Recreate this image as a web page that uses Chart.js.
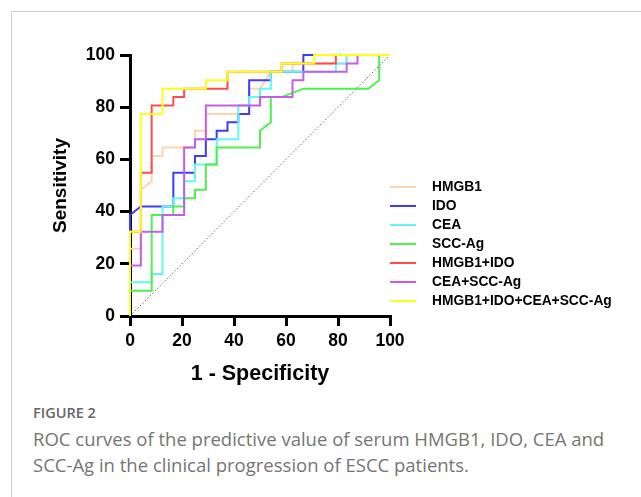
<!DOCTYPE html>
<html>
<head>
<meta charset="utf-8">
<script src="https://cdn.jsdelivr.net/npm/chart.js@4.4.1/dist/chart.umd.min.js"></script>
<style>
    body { margin: 0; background: #fff; }
    #wrap { position: relative; width: 641px; height: 497px; overflow: hidden; }
    #frame { position: absolute; left: 11px; top: 11px; right: 0; bottom: 0; border-left: 1px solid #cfcfcf; border-top: 1px solid #cfcfcf; }
    #chartBox { position: absolute; left: 0; top: 0; width: 641px; height: 390px; }
    #figLabel { position: absolute; left: 33px; top: 403px; font: 600 14.5px "Open Sans", sans-serif; color: #666; }
    #caption { position: absolute; left: 33px; top: 426px; width: 600px; font: 18.5px/26px "Open Sans", sans-serif; color: #757575; }
</style>
</head>
<body>
<div id="wrap">
    <div id="frame"></div>
    <div id="chartBox"><canvas id="rocChart"></canvas></div>
    <div id="figLabel">FIGURE 2</div>
    <div id="caption">ROC curves of the predictive value of serum HMGB1, IDO, CEA and SCC-Ag in the clinical progression of ESCC patients.</div>
</div>
<script>
// series labels and colours
const seriesNames = ['HMGB1', 'IDO', 'CEA', 'SCC-Ag', 'HMGB1+IDO', 'CEA+SCC-Ag', 'HMGB1+IDO+CEA+SCC-Ag'];
const seriesColors = ['#ffd3ad', '#3c3cff', '#62f6f6', '#4ef04e', '#ff4c4c', '#c75ce9', '#ffff1a'];

// ROC vertices: 1 - specificity (%) and sensitivity (%)
const hmgb1X = [0, 0, 4.17, 4.17, 8.33, 8.33, 12.5, 12.5, 25, 25, 29.17, 29.17, 45.83, 45.83, 50, 54.17, 62.5, 62.5, 83.33, 83.33, 100];
const hmgb1Y = [0, 25.81, 25.81, 48.39, 51.61, 61.29, 61.29, 64.52, 64.52, 70.97, 70.97, 77.42, 77.42, 87.1, 87.1, 93.55, 93.55, 96.77, 96.77, 100, 100];

const idoX = [0, 0, 4.17, 16.67, 16.67, 25, 25, 29.17, 29.17, 33.33, 33.33, 37.5, 37.5, 41.67, 41.67, 45.83, 45.83, 54.17, 54.17, 66.67, 66.67, 100];
const idoY = [0, 38.71, 41.94, 41.94, 54.84, 54.84, 61.29, 61.29, 67.74, 67.74, 70.97, 70.97, 74.19, 74.19, 77.42, 77.42, 90.32, 90.32, 93.55, 93.55, 100, 100];

const ceaX = [0, 0, 8.33, 8.33, 12.5, 12.5, 16.67, 16.67, 20.83, 20.83, 25, 25, 33.33, 33.33, 41.67, 41.67, 45.83, 45.83, 50, 50, 54.17, 54.17, 79.17, 79.17, 83.33, 83.33, 100];
const ceaY = [0, 12.9, 12.9, 16.13, 16.13, 41.94, 41.94, 45.16, 45.16, 51.61, 51.61, 58.06, 58.06, 67.74, 67.74, 80.65, 80.65, 83.87, 83.87, 87.1, 87.1, 93.55, 93.55, 96.77, 96.77, 100, 100];

const sccX = [0, 0, 8.33, 8.33, 16.67, 16.67, 20.83, 20.83, 25, 25, 29.17, 29.17, 33.33, 33.33, 50, 50, 54.17, 54.17, 58.33, 66.67, 91.67, 95.83, 95.83, 100];
const sccY = [0, 9.68, 9.68, 38.71, 38.71, 41.94, 41.94, 45.16, 45.16, 48.39, 48.39, 58.06, 58.06, 64.52, 64.52, 70.97, 74.19, 83.87, 83.87, 87.1, 87.1, 90.32, 100, 100];

const hmgbIdoX = [0, 0, 4.17, 4.17, 8.33, 8.33, 16.67, 16.67, 20.83, 20.83, 37.5, 37.5, 58.33, 58.33, 79.17, 79.17, 100];
const hmgbIdoY = [0, 32.26, 32.26, 54.84, 54.84, 80.65, 80.65, 83.87, 83.87, 87.1, 87.1, 93.55, 93.55, 96.77, 96.77, 100, 100];

const ceaSccX = [0, 0, 4.17, 4.17, 12.5, 12.5, 20.83, 20.83, 25, 25, 29.17, 29.17, 50, 50, 62.5, 62.5, 66.67, 66.67, 83.33, 83.33, 87.5, 87.5, 100];
const ceaSccY = [0, 19.35, 19.35, 32.26, 32.26, 38.71, 38.71, 64.52, 64.52, 67.74, 67.74, 80.65, 80.65, 83.87, 83.87, 90.32, 90.32, 93.55, 93.55, 96.77, 96.77, 100, 100];

const allX = [0, 0, 4.17, 4.17, 12.5, 12.5, 29.17, 29.17, 37.5, 37.5, 58.33, 58.33, 70.83, 70.83, 100];
const allY = [0, 32.26, 32.26, 77.42, 77.42, 87.1, 87.1, 90.32, 90.32, 93.55, 93.55, 96.77, 96.77, 100, 100];

// reference (chance) line
const chanceX = [0, 100];
const chanceY = [0, 100];

// axis ticks
const axisTicks = [0, 20, 40, 60, 80, 100];

const seriesX = [hmgb1X, idoX, ceaX, sccX, hmgbIdoX, ceaSccX, allX];
const seriesY = [hmgb1Y, idoY, ceaY, sccY, hmgbIdoY, ceaSccY, allY];

const toPoints = (xs, ys) => xs.map((x, i) => ({ x: x, y: ys[i] }));

const datasets = seriesNames.map((name, i) => ({
    label: name,
    data: toPoints(seriesX[i], seriesY[i]),
    borderColor: seriesColors[i],
    borderWidth: 2,
    pointRadius: 0,
    showLine: true,
    clip: 6,
    order: seriesNames.length - i
}));
datasets.push({
    label: 'chance',
    data: toPoints(chanceX, chanceY),
    borderColor: '#666',
    borderWidth: 1,
    borderDash: [1.5, 2],
    pointRadius: 0,
    showLine: true,
    order: 20
});

// legend drawn to the right of the plot
const sideLegend = {
    id: 'sideLegend',
    afterDraw(chart) {
        const ctx = chart.ctx;
        ctx.save();
        ctx.font = 'bold 13.8px "Liberation Sans", Arial, sans-serif';
        ctx.textBaseline = 'middle';
        ctx.fillStyle = '#000';
        seriesNames.forEach((name, i) => {
            const y = 187 + i * 19;
            ctx.strokeStyle = seriesColors[i];
            ctx.lineWidth = 2;
            ctx.beginPath();
            ctx.moveTo(390, y);
            ctx.lineTo(416, y);
            ctx.stroke();
            ctx.fillText(name, 432, y);
        });
        ctx.restore();
    }
};

const tickFont = { family: '"Liberation Sans", Arial, sans-serif', size: 17.5, weight: 'bold' };
const xTitleFont = { family: '"Liberation Sans", Arial, sans-serif', size: 21.5, weight: 'bold' };
const yTitleFont = { family: '"Liberation Sans", Arial, sans-serif', size: 19, weight: 'bold' };

new Chart(document.getElementById('rocChart').getContext('2d'), {
    type: 'scatter',
    data: { datasets: datasets },
    plugins: [sideLegend],
    options: {
        responsive: true,
        maintainAspectRatio: false,
        animation: false,
        layout: { padding: { left: 0, right: 251, top: 55, bottom: 0 } },
        plugins: {
            legend: { display: false },
            tooltip: { enabled: false }
        },
        scales: {
            x: {
                type: 'linear',
                min: 0,
                max: 100,
                afterBuildTicks(scale) { scale.ticks = axisTicks.map(v => ({ value: v })); },
                afterFit(scale) { scale.height = 74; },
                border: { color: '#000', width: 3 },
                grid: { drawOnChartArea: false, color: '#000', lineWidth: 3, tickLength: 10 },
                ticks: { color: '#000', font: tickFont, padding: 5, maxRotation: 0 },
                title: { display: true, text: '1 - Specificity', color: '#000', font: xTitleFont, padding: { top: 0, bottom: 3 } }
            },
            y: {
                type: 'linear',
                min: 0,
                max: 100,
                afterBuildTicks(scale) { scale.ticks = axisTicks.map(v => ({ value: v })); },
                afterFit(scale) { scale.width = 130; },
                border: { color: '#000', width: 3 },
                grid: { drawOnChartArea: false, color: '#000', lineWidth: 3, tickLength: 10 },
                ticks: { color: '#000', font: tickFont, padding: 5 },
                title: { display: true, text: 'Sensitivity', color: '#000', font: yTitleFont, padding: { top: 49, bottom: 0 } }
            }
        }
    }
});
</script>
</body>
</html>
